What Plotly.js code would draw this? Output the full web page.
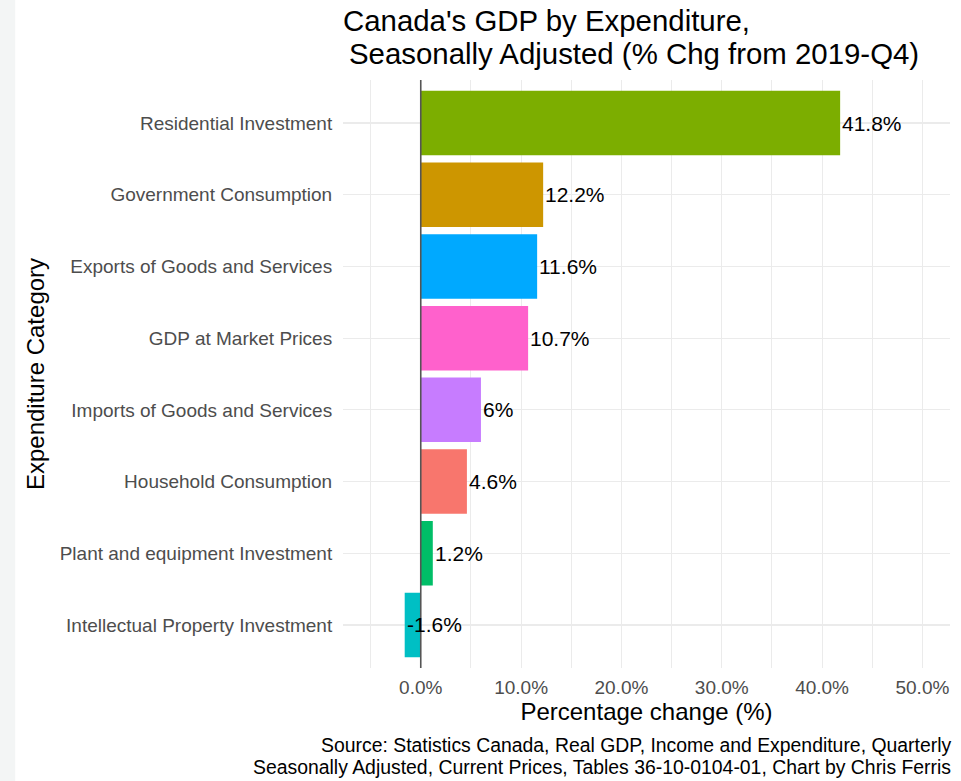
<!DOCTYPE html>
<html>
<head>
<meta charset="utf-8">
<script src="https://cdn.plot.ly/plotly-3.0.1.min.js"></script>
<style>
html,body{margin:0;padding:0;background:#fff;}
#chart{width:961px;height:781px;}
</style>
</head>
<body>
<div id="chart"></div>
<script>
// Data (top to bottom)
const categories = [
  "Residential Investment",
  "Government Consumption",
  "Exports of Goods and Services",
  "GDP at Market Prices",
  "Imports of Goods and Services",
  "Household Consumption",
  "Plant and equipment Investment",
  "Intellectual Property Investment"
];
const values = [41.8, 12.2, 11.6, 10.7, 6, 4.6, 1.2, -1.6];
const valueLabels = ["41.8%", "12.2%", "11.6%", "10.7%", "6%", "4.6%", "1.2%", "-1.6%"];
const barColors = ["#7CAE00", "#CD9600", "#00A9FF", "#FF61CC", "#C77CFF", "#F8766D", "#00BE67", "#00BFC4"];
const titleLines = ["Canada's GDP by Expenditure,", "Seasonally Adjusted (% Chg from 2019-Q4)"];
const captionLines = [
  "Source: Statistics Canada, Real GDP, Income and Expenditure, Quarterly",
  "Seasonally Adjusted, Current Prices, Tables 36-10-0104-01, Chart by Chris Ferris"
];

const FONT = "Liberation Sans, Arial, sans-serif";

const trace = {
  type: "bar",
  orientation: "h",
  y: categories,
  x: values,
  width: 0.9,
  marker: {color: barColors, line: {width: 0}},
  hoverinfo: "skip"
};

const annotations = values.map((v, i) => ({
  x: v, y: categories[i], xref: "x", yref: "y",
  text: valueLabels[i], showarrow: false,
  xanchor: "left", yanchor: "middle", xshift: 0,
  font: {family: FONT, size: 21, color: "#000"}
}));

// second title line
annotations.push({
  xref: "paper", yref: "paper", x: 0, y: 1.0459, xanchor: "left", yanchor: "middle",
  xshift: 4, showarrow: false, text: titleLines[1],
  font: {family: FONT, size: 29.4, color: "#000"}
});

// caption lines
const capY = [-0.131, -0.168];
captionLines.forEach((t, i) => annotations.push({
  xref: "paper", yref: "paper", x: 1, y: capY[i], xanchor: "right", yanchor: "middle",
  xshift: 3, showarrow: false, text: t,
  font: {family: FONT, size: 19.4, color: "#000"}
}));

const layout = {
  width: 961, height: 781,
  margin: {l: 343, r: 11, t: 80, b: 113},
  paper_bgcolor: "#fff", plot_bgcolor: "#fff",
  showlegend: false,
  font: {family: FONT},
  title: {
    text: titleLines[0],
    x: 343 / 961, xref: "container", xanchor: "left",
    y: 1 - 21 / 781, yref: "container", yanchor: "middle",
    pad: {t: 0, b: 0, l: 0, r: 0},
    font: {family: FONT, size: 29.4, color: "#000"}
  },
  xaxis: {
    range: [-7.75, 52.75],
    tick0: 0, dtick: 10,
    tickformat: ".1f", ticksuffix: "%",
    showgrid: true, gridcolor: "#EBEBEB", gridwidth: 1.1,
    minor: {dtick: 5, tick0: 0, showgrid: true, gridcolor: "#EBEBEB", gridwidth: 1.1},
    zeroline: false, showline: false,
    ticks: "outside", ticklen: 2, tickcolor: "rgba(0,0,0,0)",
    tickfont: {family: FONT, size: 19, color: "#4D4D4D"},
    title: {text: "Percentage change (%)", standoff: 2, font: {family: FONT, size: 24, color: "#000"}}
  },
  yaxis: {
    type: "category",
    categoryorder: "array", categoryarray: categories,
    range: [7.6, -0.6],
    showgrid: true, gridcolor: "#EBEBEB", gridwidth: 1.1,
    zeroline: false, showline: false,
    ticks: "outside", ticklen: 6, tickcolor: "rgba(0,0,0,0)",
    tickfont: {family: FONT, size: 19, color: "#4D4D4D"},
    title: {text: "Expenditure Category", standoff: 8, font: {family: FONT, size: 24, color: "#000"}}
  },
  shapes: [
    {type: "line", xref: "x", yref: "paper", x0: 0, x1: 0, y0: 0, y1: 1,
     line: {color: "#555555", width: 1.6}, layer: "above"},
    {type: "rect", xref: "paper", yref: "paper", x0: -0.565, x1: -0.54, y0: -0.2, y1: 1.15,
     fillcolor: "#F3F5F5", line: {width: 0}, layer: "below"}
  ],
  annotations: annotations
};

Plotly.newPlot("chart", [trace], layout, {displayModeBar: false, staticPlot: true});
</script>
</body>
</html>
